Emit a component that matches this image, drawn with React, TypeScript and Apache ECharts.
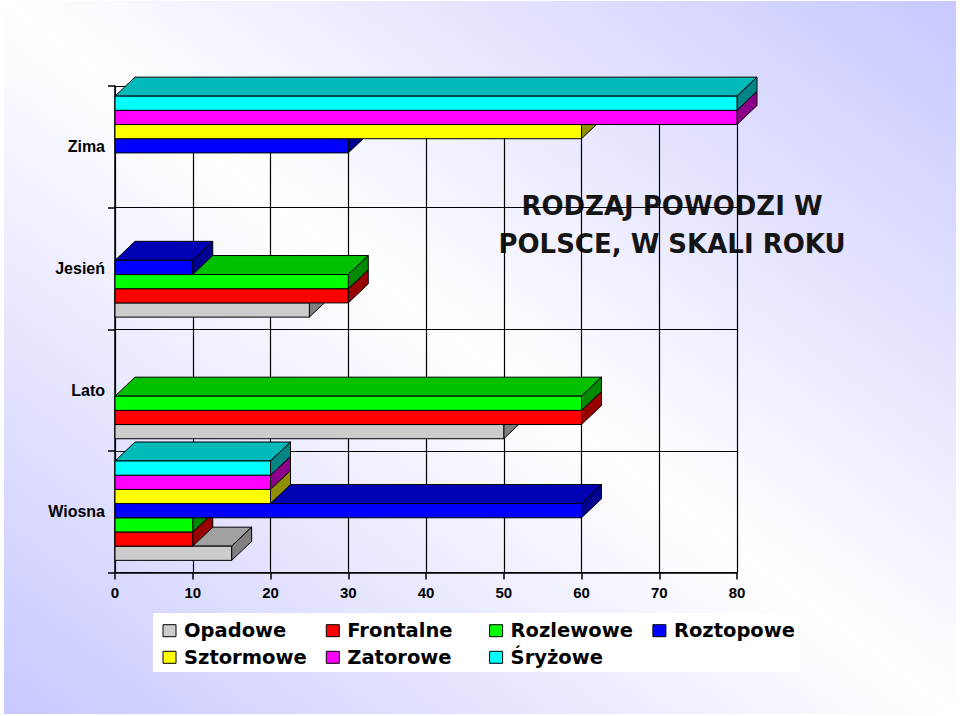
import React, { useEffect, useRef } from 'react';
import * as echarts from 'echarts';

// ---- data ----
const categories = ['Wiosna', 'Lato', 'Jesień', 'Zima'];
const seriesNames = ['Opadowe', 'Frontalne', 'Rozlewowe', 'Roztopowe', 'Sztormowe', 'Zatorowe', 'Śryżowe'];
const opadowe = [15, 50, 25, 0];
const frontalne = [10, 60, 30, 0];
const rozlewowe = [10, 60, 30, 0];
const roztopowe = [60, 0, 10, 30];
const sztormowe = [20, 0, 0, 60];
const zatorowe = [20, 0, 0, 80];
const sryzowe = [20, 0, 0, 80];
const seriesValues = [opadowe, frontalne, rozlewowe, roztopowe, sztormowe, zatorowe, sryzowe];
const xMin = 0;
const xMax = 80;
const xInterval = 10;
const titleLines = ['RODZAJ POWODZI W', 'POLSCE, W SKALI ROKU'];

// ---- styles ----
const frontColors = ['#cccccc', '#ff0000', '#00ff00', '#0000ff', '#ffff00', '#ff00ff', '#00ffff'];
const topColors = ['#a0a0a0', '#c00000', '#00c000', '#0000b4', '#bdbd00', '#bd00bd', '#00b9b9'];
const sideColors = ['#808080', '#960000', '#008a00', '#000090', '#8f8f00', '#8c008c', '#008585'];

const ARIAL = 'Liberation Sans, Arial, sans-serif';
const WIDE = 'DejaVu Sans, Liberation Sans, sans-serif';

export default function App() {
  const ref = useRef<HTMLDivElement>(null);

  useEffect(() => {
    document.body.style.margin = '0';
    const chart = echarts.init(ref.current as HTMLDivElement, undefined, { renderer: 'svg' });
    const DX = 20;
    const DY = 19;
    const axisLineStyle = { color: '#000', width: 1.5 };
    const gridLineStyle = { color: '#000', width: 1.2 };

    const series = seriesNames.map((name, s) => ({
      name,
      type: 'custom',
      coordinateSystem: 'cartesian2d',
      encode: { x: 0, y: 1 },
      itemStyle: { color: frontColors[s] },
      z: 2,
      data: seriesValues[s].map((v, i) => [v, i]).filter((d) => d[0] > 0),
      renderItem: (params: any, api: any) => {
        const val = api.value(0);
        const cat = api.value(1);
        const base = api.coord([0, cat]);
        const end = api.coord([val, cat]);
        const band = api.size([0, 1])[1];
        const h = band * 0.1167;
        const bottom = base[1] + 3.5 * h - 1 - s * h;
        const top = bottom - h;
        const x0 = base[0];
        const x1 = end[0];
        const line = { stroke: '#000', lineWidth: 1, lineJoin: 'round' };
        const z2 = cat * 10 + s;
        return {
          type: 'group',
          children: [
            {
              type: 'polygon',
              z2,
              shape: { points: [[x0, top], [x1, top], [x1 + DX, top - DY], [x0 + DX, top - DY]] },
              style: { fill: topColors[s], ...line },
            },
            {
              type: 'polygon',
              z2,
              shape: { points: [[x1, top], [x1 + DX, top - DY], [x1 + DX, bottom - DY], [x1, bottom]] },
              style: { fill: sideColors[s], ...line },
            },
            {
              type: 'rect',
              z2,
              shape: { x: x0, y: top, width: x1 - x0, height: h },
              style: { fill: frontColors[s], ...line },
            },
          ],
        };
      },
    }));

    const legends = seriesNames.map((n, i) => ({
      data: [n],
      left: 162.5 + (i % 4) * 163.3,
      top: (i < 4 ? 630.7 : 657.3) - 10,
      orient: 'horizontal',
      padding: 0,
      itemWidth: 13,
      itemHeight: 12,
      icon: 'rect',
      selectedMode: false,
      itemStyle: { borderColor: '#000', borderWidth: 1 },
      textStyle: {
        fontFamily: WIDE,
        fontWeight: 'bold',
        fontSize: 19.5,
        color: '#000',
        lineHeight: 20,
        padding: [0, 0, 0, 3],
      },
    }));

    const titleStyle = {
      fontFamily: WIDE,
      fontWeight: 'bold',
      fontSize: 26,
      fill: '#151515',
      align: 'center',
      verticalAlign: 'middle',
    };

    chart.setOption({
      animation: false,
      backgroundColor: '#ffffff',
      graphic: [
        {
          type: 'rect',
          z: -10,
          shape: { x: 4, y: 1, width: 952, height: 713 },
          style: {
            fill: new echarts.graphic.LinearGradient(1, 0, 0, 1, [
              { offset: 0, color: '#c8c8ff' },
              { offset: 0.5, color: '#ffffff' },
              { offset: 1, color: '#c8c8ff' },
            ]),
          },
        },
        {
          type: 'rect',
          z: 1,
          shape: { x: 153, y: 613, width: 647, height: 59 },
          style: { fill: '#ffffff' },
        },
        { type: 'text', z: -1, x: 672, y: 206, style: { text: titleLines[0], ...titleStyle } },
        { type: 'text', z: -1, x: 672, y: 243.5, style: { text: titleLines[1], ...titleStyle } },
      ],
      grid: { left: 115, right: 223, top: 86, bottom: 143.5, containLabel: false },
      xAxis: {
        type: 'value',
        min: xMin,
        max: xMax,
        interval: xInterval,
        axisLine: { show: true, lineStyle: axisLineStyle },
        axisTick: { show: true, length: 7, lineStyle: axisLineStyle },
        axisLabel: { color: '#000', fontFamily: ARIAL, fontWeight: 'bold', fontSize: 15, margin: 12 },
        splitLine: { show: true, lineStyle: gridLineStyle },
      },
      yAxis: {
        type: 'category',
        data: categories,
        axisLine: { show: true, lineStyle: axisLineStyle },
        axisTick: { show: true, length: 7, alignWithLabel: false, lineStyle: axisLineStyle },
        axisLabel: { color: '#000', fontFamily: ARIAL, fontWeight: 'bold', fontSize: 16, margin: 10 },
        splitLine: { show: true, lineStyle: gridLineStyle },
      },
      legend: legends,
      series,
    });

    return () => {
      chart.dispose();
    };
  }, []);

  return <div ref={ref} style={{ width: 960, height: 716 }} />;
}
